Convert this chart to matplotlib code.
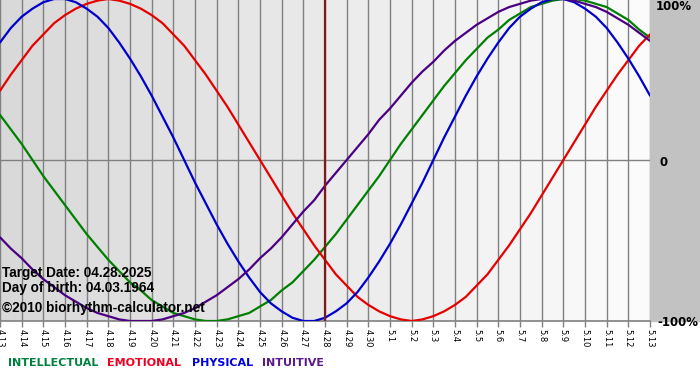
#!/usr/bin/env python3
"""
Biorhythm chart for 04.13 - 05.13 (target date 04.28.2025, born 04.03.1964).
Saves out.png (700x380).
"""

import numpy as np
import matplotlib
matplotlib.use("Agg")
import matplotlib.pyplot as plt

# ── data (values every half day) ──────────────────────────
days = ["4.13", "4.14", "4.15", "4.16", "4.17", "4.18", "4.19", "4.20",
        "4.21", "4.22", "4.23", "4.24", "4.25", "4.26", "4.27", "4.28",
        "4.29", "4.30", "5.1", "5.2", "5.3", "5.4", "5.5", "5.6", "5.7",
        "5.8", "5.9", "5.10", "5.11", "5.12", "5.13"]

intellectual = [0.28, 0.19, 0.10, 0.00,
                -0.10, -0.19, -0.28, -0.37, -0.46, -0.54, -0.62, -0.69,
                -0.76, -0.81, -0.87, -0.91, -0.95, -0.97, -0.99, -1.00,
                -1.00, -0.99, -0.97, -0.95, -0.91, -0.87, -0.81, -0.76,
                -0.69, -0.62, -0.54, -0.46, -0.37, -0.28, -0.19, -0.10,
                0.00, 0.10, 0.19, 0.28, 0.37, 0.46, 0.54, 0.62, 0.69, 0.76,
                0.81, 0.87, 0.91, 0.95, 0.97, 0.99, 1.00, 1.00, 0.99, 0.97,
                0.95, 0.91, 0.87, 0.81, 0.76]
emotional = [0.43, 0.53, 0.62, 0.71, 0.78, 0.85, 0.90, 0.94, 0.97, 0.99, 1.00,
             0.99, 0.97, 0.94, 0.90, 0.85, 0.78, 0.71, 0.62, 0.53, 0.43, 0.33,
             0.22, 0.11, 0.00,
             -0.11, -0.22, -0.33, -0.43, -0.53, -0.62, -0.71, -0.78, -0.85,
             -0.90, -0.94, -0.97, -0.99, -1.00,
             -0.99, -0.97, -0.94, -0.90, -0.85, -0.78, -0.71, -0.62, -0.53,
             -0.43, -0.33, -0.22, -0.11,
             0.00, 0.11, 0.22, 0.33, 0.43, 0.53, 0.62, 0.71, 0.78]
physical = [0.73, 0.82, 0.89, 0.94, 0.98, 1.00, 1.00, 0.98, 0.94, 0.89, 0.82,
            0.73, 0.63, 0.52, 0.40, 0.27, 0.14, 0.00,
            -0.14, -0.27, -0.40, -0.52, -0.63, -0.73, -0.82, -0.89, -0.94,
            -0.98, -1.00, -1.00, -0.98, -0.94, -0.89, -0.82, -0.73, -0.63,
            -0.52, -0.40, -0.27, -0.14,
            0.00, 0.14, 0.27, 0.40, 0.52, 0.63, 0.73, 0.82, 0.89, 0.94, 0.98,
            1.00, 1.00, 0.98, 0.94, 0.89, 0.82, 0.73, 0.63, 0.52, 0.40]
intuitive = [-0.48, -0.55, -0.61, -0.68, -0.74, -0.79, -0.84, -0.88, -0.92,
             -0.95, -0.97, -0.99, -1.00, -1.00,
             -1.00, -0.99, -0.97, -0.95, -0.92, -0.88, -0.84, -0.79, -0.74,
             -0.68, -0.61, -0.55, -0.48, -0.40, -0.32, -0.25, -0.16, -0.08,
             0.00, 0.08, 0.16, 0.25, 0.32, 0.40, 0.48, 0.55, 0.61, 0.68,
             0.74, 0.79, 0.84, 0.88, 0.92, 0.95, 0.97, 0.99, 1.00, 1.00, 1.00,
             0.99, 0.97, 0.95, 0.92, 0.88, 0.84, 0.79, 0.74]

target_day = "4.28"
series = [
    ("INTELLECTUAL", intellectual, "#008000", "#008040"),
    ("EMOTIONAL", emotional, "#e60000", "#ee0022"),
    ("PHYSICAL", physical, "#0000cc", "#0000dd"),
    ("INTUITIVE", intuitive, "#4b0082", "#5a1a8a"),
]

W, H = 700, 380
PLOT_RIGHT = 650   # px
PLOT_BOTTOM = 321  # px from top


def draw_background(fig):
    """Gray gutter on the right and the gradient band under the axis."""
    bg = fig.add_axes([0, 0, 1, 1], zorder=-5)
    bg.set_xlim(0, W)
    bg.set_ylim(H, 0)
    bg.axis("off")
    bg.add_patch(plt.Rectangle((0, 0), W, H, color="white"))
    bg.add_patch(plt.Rectangle((PLOT_RIGHT, 0), W - PLOT_RIGHT, PLOT_BOTTOM,
                               color="#c2c2c2"))
    grad = np.linspace(0.96, 0.77, 256)[None, :]
    bg.imshow(grad, cmap="gray", vmin=0, vmax=1, aspect="auto",
              extent=(0, W, 370, PLOT_BOTTOM))


def plot_chart():
    fig = plt.figure(figsize=(W / 100, H / 100), dpi=100)
    draw_background(fig)

    ax = fig.add_axes([0, (H - PLOT_BOTTOM) / H, PLOT_RIGHT / W,
                       (PLOT_BOTTOM + 1) / H])
    x = np.arange(len(days))
    ax.set_xlim(0, len(days) - 1)
    ax.set_ylim(-1, 1.0)

    # day columns, darker on the left
    shades = np.linspace(0.85, 0.985, len(days) - 1)
    for i, s in enumerate(shades):
        ax.axvspan(i, i + 1, color=str(s), lw=0, zorder=0)
    for i in x:
        ax.axvline(i, color="#808080", lw=1, zorder=1)
    ax.axhline(0, color="#808080", lw=1, zorder=1)
    ax.axhline(-1, color="#808080", lw=1.2, zorder=1, clip_on=False)

    for name, vals, col, _ in series:
        xs = np.arange(len(vals)) * 0.5
        ax.plot(xs, vals, color=col, lw=1.6, zorder=3, solid_capstyle="round")

    ax.axvline(days.index(target_day), color="#801a1a", lw=1.6, zorder=4)

    for s in ax.spines.values():
        s.set_visible(False)
    ax.set_yticks([])
    ax.set_xticks(x)
    ax.set_xticklabels(days, rotation=270, fontsize=6, ha="center",
                       va="top")
    ax.tick_params(axis="x", length=4, width=1, color="#808080", pad=2)

    # info text
    info_font = dict(family="Liberation Sans", weight="bold", fontsize=9.8)
    fig.text(2 / W, 1 - 277 / H, "Target Date: 04.28.2025", va="baseline",
             **info_font)
    fig.text(2 / W, 1 - 292 / H, "Day of birth: 04.03.1964", va="baseline",
             **info_font)
    fig.text(2 / W, 1 - 312 / H, "\u00a92010 biorhythm-calculator.net",
             va="baseline", **info_font)

    # right side percent labels
    lab = dict(weight="bold", fontsize=8.5, va="center", ha="left")
    fig.text(656 / W, 1 - 7 / H, "100%", **lab)
    fig.text(660 / W, 1 - 162 / H, "0", **lab)
    fig.text(657 / W, 1 - 322 / H, "-100%", **lab)

    # legend row
    lx = [8, 107, 192, 262]
    for (name, _, _, tcol), px in zip(series, lx):
        fig.text(px / W, 1 - 366 / H, name, color=tcol, fontsize=8,
                 weight="bold", va="baseline", ha="left")

    fig.savefig("out.png", dpi=100)
    plt.close(fig)


if __name__ == "__main__":
    plot_chart()
